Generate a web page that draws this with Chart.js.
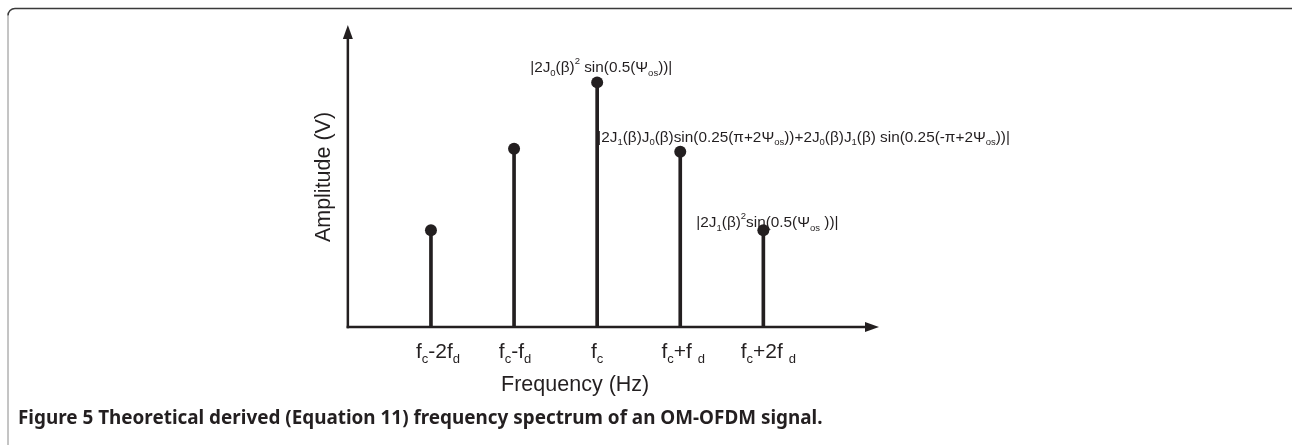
<!DOCTYPE html>
<html>
<head>
<meta charset="utf-8">
<script src="https://cdn.jsdelivr.net/npm/chart.js"></script>
<style>
  html, body { margin: 0; padding: 0; background: #fff; }
  #wrap { width: 1292px; height: 445px; position: relative; }
</style>
</head>
<body>
<div id="wrap"><canvas id="spectrumChart" width="1292" height="445"></canvas></div>
<script>
// frequency positions (in units of fd around fc) and amplitudes (relative)
var freqPos = [-2, -1, 0, 1, 2];
var amplitudes = [0.32, 0.59, 0.81, 0.58, 0.32];

// rich text pieces: [text, mode] where mode is '' | 'sub' | 'sup'
var tickLabels = [
  [['f', ''], ['c', 'sub'], ['-2f', ''], ['d', 'sub']],
  [['f', ''], ['c', 'sub'], ['-f', ''], ['d', 'sub']],
  [['f', ''], ['c', 'sub']],
  [['f', ''], ['c', 'sub'], ['+f ', ''], ['d', 'sub']],
  [['f', ''], ['c', 'sub'], ['+2f ', ''], ['d', 'sub']]
];

var peakNotes = [
  null,
  null,
  [['|2J', ''], ['0', 'sub'], ['(\u03B2)', ''], ['2', 'sup'], [' sin(0.5(\u03A8', ''], ['os', 'sub'], ['))|', '']],
  [['|2J', ''], ['1', 'sub'], ['(\u03B2)J', ''], ['0', 'sub'], ['(\u03B2)sin(0.25(\u03C0+2\u03A8', ''], ['os', 'sub'],
   ['))+2J', ''], ['0', 'sub'], ['(\u03B2)J', ''], ['1', 'sub'], ['(\u03B2) sin(0.25(-\u03C0+2\u03A8', ''], ['os', 'sub'], ['))|', '']],
  [['|2J', ''], ['1', 'sub'], ['(\u03B2)', ''], ['2', 'sup'], ['sin(0.5(\u03A8', ''], ['os', 'sub'], [' ))|', '']]
];

var xTitle = 'Frequency (Hz)';
var yTitle = 'Amplitude (V)';
var captionBold = 'Figure 5';
var captionText = ' Theoretical derived (Equation 11) frequency spectrum of an OM-OFDM signal.';

var ink = '#231f20';
var fontFam = '"Liberation Sans", Arial, sans-serif';
var capFam = '"Noto Sans", "Open Sans", sans-serif';

function richWidth(ctx, parts, size) {
  var w = 0;
  parts.forEach(function (p) {
    var s = p[1] ? size * 0.62 : size;
    ctx.font = s + 'px ' + fontFam;
    w += ctx.measureText(p[0]).width;
  });
  return w;
}

function drawRich(ctx, parts, x, y, size, align) {
  var w = richWidth(ctx, parts, size);
  var cx = align === 'center' ? x - w / 2 : x;
  ctx.textBaseline = 'alphabetic';
  ctx.textAlign = 'left';
  parts.forEach(function (p) {
    var s = p[1] ? size * 0.62 : size;
    var dy = p[1] === 'sub' ? size * 0.22 : (p[1] === 'sup' ? -size * 0.55 : 0);
    ctx.font = s + 'px ' + fontFam;
    ctx.fillText(p[0], cx, y + dy);
    cx += ctx.measureText(p[0]).width;
  });
}

var spectrumDecor = {
  id: 'spectrumDecor',
  beforeDraw: function (chart) {
    var ctx = chart.ctx;
    ctx.save();
    // figure frame (top and left edges with rounded corner)
    ctx.lineWidth = 1.5;
    ctx.strokeStyle = '#3a3a3a';
    ctx.beginPath();
    ctx.moveTo(1292, 8.5);
    ctx.lineTo(15, 8.5);
    ctx.arcTo(8, 8.5, 8, 15, 7);
    ctx.stroke();
    ctx.strokeStyle = '#8a8a8a';
    ctx.lineWidth = 1;
    ctx.beginPath();
    ctx.moveTo(8, 15);
    ctx.lineTo(8, 445);
    ctx.stroke();
    ctx.restore();
  },
  afterDraw: function (chart) {
    var ctx = chart.ctx;
    var xs = chart.scales.x, ys = chart.scales.y;
    var area = chart.chartArea;
    var ox = xs.getPixelForValue(xs.min);
    var oy = ys.getPixelForValue(0);
    ctx.save();
    ctx.strokeStyle = ink;
    ctx.fillStyle = ink;
    ctx.lineWidth = 2.5;
    // y axis with arrow
    ctx.beginPath();
    ctx.moveTo(ox, oy + 1.2);
    ctx.lineTo(ox, area.top + 12);
    ctx.stroke();
    ctx.beginPath();
    ctx.moveTo(ox, area.top);
    ctx.lineTo(ox - 5, area.top + 14);
    ctx.lineTo(ox + 5, area.top + 14);
    ctx.closePath();
    ctx.fill();
    // x axis with arrow
    ctx.beginPath();
    ctx.moveTo(ox - 1.2, oy);
    ctx.lineTo(area.right - 12, oy);
    ctx.stroke();
    ctx.beginPath();
    ctx.moveTo(area.right, oy);
    ctx.lineTo(area.right - 14, oy - 5);
    ctx.lineTo(area.right - 14, oy + 5);
    ctx.closePath();
    ctx.fill();

    // tick labels
    var tickShift = [7, 1, 0, 3, 5];
    freqPos.forEach(function (f, i) {
      drawRich(ctx, tickLabels[i], xs.getPixelForValue(f) + tickShift[i], oy + 31, 21, 'center');
    });

    // peak annotations (size picked so the long one is ~413px wide)
    var noteSize = 14 * 413 / richWidth(ctx, peakNotes[3], 14);
    var meta = chart.getDatasetMeta(1);
    peakNotes.forEach(function (note, i) {
      if (!note) return;
      var pt = meta.data[i];
      var dx = i === 3 ? -83 : -67;
      var dy = i === 4 ? -3 : -10;
      drawRich(ctx, note, pt.x + dx, pt.y + dy, noteSize, 'left');
    });

    // axis titles
    ctx.font = '21.5px ' + fontFam;
    ctx.textAlign = 'center';
    ctx.textBaseline = 'middle';
    ctx.fillText(xTitle, xs.getPixelForValue(0) - 22, oy + 58);
    ctx.save();
    ctx.translate(ox - 24, (area.top + oy) / 2 + 1);
    ctx.rotate(-Math.PI / 2);
    ctx.fillText(yTitle, 0, 0);
    ctx.restore();

    // caption, sized so "...of an OM-" reaches about x=700
    ctx.textAlign = 'left';
    ctx.textBaseline = 'alphabetic';
    ctx.fillStyle = '#231f20';
    ctx.font = 'bold 17px ' + capFam;
    var pre = (captionBold + captionText).split('OFDM')[0];
    var capSize = 17 * 682 / ctx.measureText(pre).width;
    ctx.font = 'bold ' + capSize + 'px ' + capFam;
    ctx.fillText(captionBold, 18, 424);
    var bw = ctx.measureText(captionBold).width;
    ctx.fillText(captionText, 18 + bw, 424);
    ctx.restore();
  }
};

var ctx = document.getElementById('spectrumChart').getContext('2d');
var spectrumChart = new Chart(ctx, {
  type: 'scatter',
  data: {
    datasets: [{
      type: 'bar',
      data: freqPos.map(function (f, i) { return { x: f, y: amplitudes[i] }; }),
      backgroundColor: ink,
      barThickness: 3,
      order: 2
    }, {
      type: 'scatter',
      data: freqPos.map(function (f, i) { return { x: f, y: amplitudes[i] }; }),
      pointRadius: 6,
      pointBackgroundColor: ink,
      pointBorderWidth: 0,
      order: 1
    }]
  },
  options: {
    responsive: false,
    animation: false,
    layout: { padding: { left: 307, right: 413, top: 25, bottom: 118 } },
    scales: {
      x: { type: 'linear', min: -3, max: 2.9, display: false },
      y: { min: 0, max: 1, display: false }
    },
    plugins: { legend: { display: false }, tooltip: { enabled: false } }
  },
  plugins: [spectrumDecor]
});
</script>
</body>
</html>
